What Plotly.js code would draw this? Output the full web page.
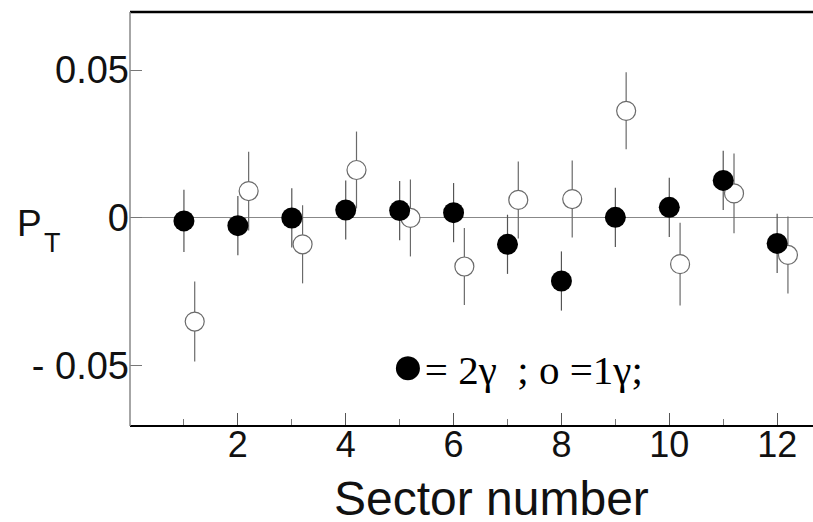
<!DOCTYPE html>
<html>
<head>
<meta charset="utf-8">
<script src="https://cdn.plot.ly/plotly-3.0.1.min.js"></script>
<style>html,body{margin:0;padding:0;background:#fff;overflow:hidden;}#wrap{width:813px;height:522px;overflow:hidden;}#chart{width:830px;height:522px;}</style>
</head>
<body>
<div id="wrap"><div id="chart"></div></div>
<script>
// Sector numbers
var sectors = [1, 2, 3, 4, 5, 6, 7, 8, 9, 10, 11, 12];
// 2-gamma (filled circles)
var pt2gamma = [-0.0010, -0.0026, 0.0000, 0.0027, 0.0025, 0.0018, -0.0089, -0.0213, 0.0002, 0.0036, 0.0127, -0.0086];
var err2gamma = [0.0105, 0.0100, 0.0100, 0.0100, 0.0100, 0.0100, 0.0100, 0.0100, 0.0100, 0.0100, 0.0100, 0.0100];
// 1-gamma (open circles), drawn at sector + 0.2
var pt1gamma = [-0.0350, 0.0091, -0.0089, 0.0162, 0.0000, -0.0164, 0.0061, 0.0064, 0.0362, -0.0156, 0.0083, -0.0125];
var err1gamma = [0.0135, 0.0133, 0.0132, 0.0130, 0.0130, 0.0130, 0.0130, 0.0130, 0.0130, 0.0140, 0.0135, 0.0130];
var offset1gamma = 0.2;
// Axis ticks
var xTickVals = [2, 4, 6, 8, 10, 12];
var xTickText = ["2", "4", "6", "8", "10", "12"];
var xMinorVals = [1, 3, 5, 7, 9, 11];
var yTickVals = [-0.05, 0, 0.05];
var yTickText = ["- 0.05", "0", "0.05"];

var x1 = sectors.map(function (s) { return s + offset1gamma; });

var traceOpen = {
  x: x1, y: pt1gamma, type: 'scatter', mode: 'markers',
  error_y: {type: 'data', array: err1gamma, visible: true, color: '#6a6a6a', thickness: 1.2, width: 0},
  marker: {size: 19, color: '#ffffff', line: {color: '#6a6a6a', width: 1.2}},
  hoverinfo: 'x+y', showlegend: false
};
var traceFilled = {
  x: sectors, y: pt2gamma, type: 'scatter', mode: 'markers',
  error_y: {type: 'data', array: err2gamma, visible: true, color: '#555', thickness: 1.2, width: 0},
  marker: {size: 21, color: '#000000'},
  hoverinfo: 'x+y', showlegend: false
};

var font = "'Liberation Sans', Arial, sans-serif";
var layout = {
  width: 830, height: 522,
  margin: {l: 130, r: 0, t: 12, b: 96, pad: 0},
  paper_bgcolor: '#ffffff', plot_bgcolor: '#ffffff',
  showlegend: false,
  xaxis: {
    range: [0, 12.98], tickmode: 'array', tickvals: xTickVals, ticktext: xTickText,
    ticks: 'inside', ticklen: 13, tickwidth: 1, tickcolor: '#555',
    minor: {tickmode: 'array', tickvals: xMinorVals, ticks: 'inside', ticklen: 7, tickwidth: 1, tickcolor: '#777', showgrid: false},
    showline: false, showgrid: false, zeroline: false, ticklabelstandoff: -6,
    tickfont: {family: font, size: 36, color: '#111'}
  },
  yaxis: {
    range: [-0.0703, 0.0696], tickmode: 'array', tickvals: yTickVals, ticktext: yTickText,
    ticks: 'inside', ticklen: 12, tickwidth: 1, tickcolor: '#777',
    showline: false, showgrid: false, zeroline: true, zerolinecolor: '#888', zerolinewidth: 1,
    tickfont: {family: font, size: 38, color: '#111'}
  },
  shapes: [
    {type: 'line', xref: 'paper', yref: 'paper', x0: 0, x1: 1, y0: 1, y1: 1,
     line: {color: '#000', width: 2.5}},
    {type: 'line', xref: 'paper', yref: 'paper', x0: 0, x1: 1, y0: 0, y1: 0,
     line: {color: '#000', width: 2}},
    {type: 'line', xref: 'paper', yref: 'paper', x0: 0, x1: 0, y0: 0, y1: 1,
     line: {color: '#888', width: 1.5}}
  ],
  annotations: [
    {xref: 'paper', yref: 'paper', x: -0.1639, y: 0.49, xanchor: 'left', yanchor: 'middle',
     text: 'P', showarrow: false, font: {family: font, size: 37, color: '#111'}},
    {xref: 'paper', yref: 'paper', x: -0.1257, y: 0.441, xanchor: 'left', yanchor: 'middle',
     text: 'T', showarrow: false, font: {family: font, size: 27, color: '#111'}},
    {xref: 'paper', yref: 'paper', x: 0.5164, y: -0.176, xanchor: 'center', yanchor: 'middle',
     text: 'Sector number', showarrow: false, font: {family: font, size: 48, color: '#111'}},
    {xref: 'x', yref: 'y', x: 4.8, y: -0.0497, xanchor: 'left', yanchor: 'middle',
     text: '<span style="font-size:56px">\u25CF</span>= 2\u03B3\u00A0\u00A0; o =1\u03B3;', showarrow: false,
     font: {family: "'Liberation Serif', 'Times New Roman', serif", size: 41, color: '#000'}}
  ]
};

Plotly.newPlot('chart', [traceOpen, traceFilled], layout, {displayModeBar: false, staticPlot: true});
</script>
</body>
</html>
